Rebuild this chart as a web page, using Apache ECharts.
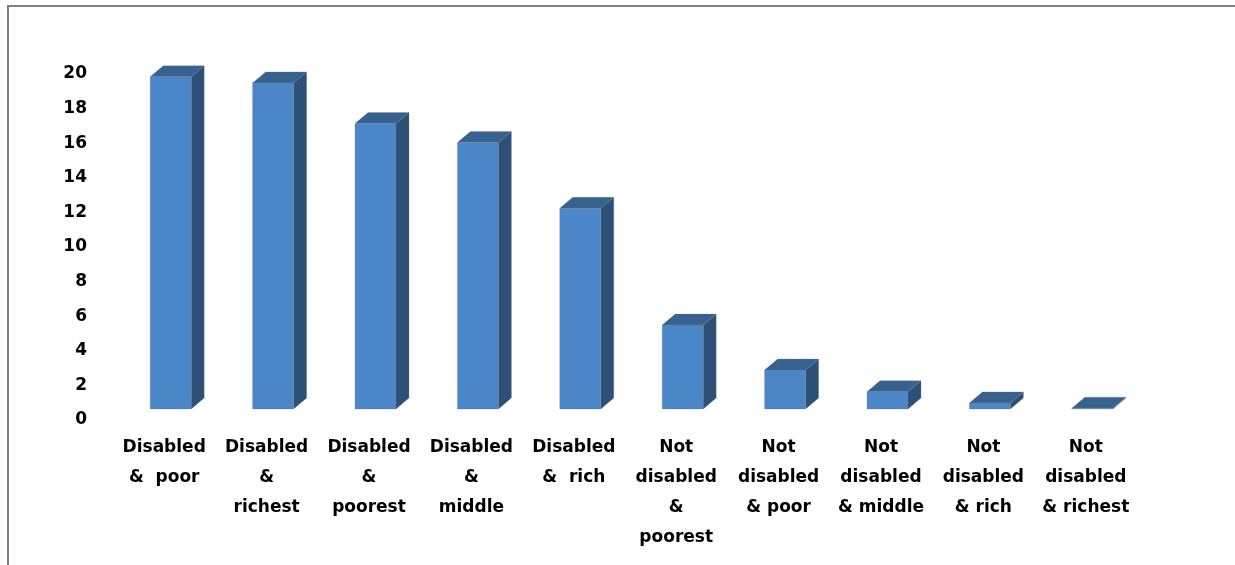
<!DOCTYPE html>
<html>
<head>
<meta charset="utf-8">
<script src="https://cdn.jsdelivr.net/npm/echarts@6/dist/echarts.min.js"></script>
<style>
html,body{margin:0;padding:0;background:#fff;}
#frame{position:absolute;left:7px;top:5px;width:1240px;height:580px;border-left:2px solid #808080;border-top:2px solid #808080;box-sizing:border-box;}
#chart{position:absolute;left:0;top:0;width:1235px;height:565px;}
</style>
</head>
<body>
<div id="frame"></div>
<div id="chart"></div>
<script>
const categories = [
  "Disabled\n&  poor",
  "Disabled\n&\nrichest",
  "Disabled\n&\npoorest",
  "Disabled\n&\nmiddle",
  "Disabled\n&  rich",
  "Not\ndisabled\n&\npoorest",
  "Not\ndisabled\n& poor",
  "Not\ndisabled\n& middle",
  "Not\ndisabled\n& rich",
  "Not\ndisabled\n& richest"
];
const values = [19.2, 18.85, 16.5, 15.4, 11.6, 4.85, 2.25, 1.0, 0.35, 0.05];
const yTicks = [0, 2, 4, 6, 8, 10, 12, 14, 16, 18, 20];

const FRONT = '#4A86C8', TOP = '#37628F', SIDE = '#2D5077';
const chart = echarts.init(document.getElementById('chart'), null, {renderer: 'canvas'});

function renderItem(params, api) {
  const idx = api.value(0);
  const v = api.value(1);
  const top = api.coord([idx, v]);
  const base = api.coord([idx, 0]);
  const lift = 11;
  const cx = top[0];
  const fl = cx - 14, fr = cx + 27;
  const ft = top[1] - lift, fb = base[1] - lift;
  const dx = 13, dy = 11;
  const edge = 'rgba(120,120,120,0.35)';
  return {
    type: 'group',
    children: [
      {type: 'polygon', shape: {points: [[fr, ft], [fr + dx, ft - dy], [fr + dx, fb - dy], [fr, fb]]},
       style: {fill: SIDE, stroke: edge, lineWidth: 0.8}},
      {type: 'polygon', shape: {points: [[fl, ft], [fr, ft], [fr + dx, ft - dy], [fl + dx, ft - dy]]},
       style: {fill: TOP, stroke: edge, lineWidth: 0.8}},
      {type: 'rect', shape: {x: fl, y: ft, width: fr - fl, height: Math.max(fb - ft, 0.5)},
       style: {fill: FRONT, stroke: edge, lineWidth: 0.8}}
    ]
  };
}

chart.setOption({
  animation: false,
  grid: {left: 113, right: 98, top: 74, bottom: 145, containLabel: false},
  xAxis: {
    type: 'category',
    data: categories,
    axisLine: {show: false},
    axisTick: {show: false},
    axisLabel: {
      interval: 0,
      margin: 13,
      fontFamily: 'DejaVu Sans',
      fontWeight: 'bold',
      fontSize: 17,
      lineHeight: 30,
      color: '#000',
      align: 'center',
      verticalAlign: 'top'
    }
  },
  yAxis: {
    type: 'value',
    min: yTicks[0],
    max: yTicks[yTicks.length - 1],
    interval: yTicks[1] - yTicks[0],
    axisLine: {show: false},
    axisTick: {show: false},
    splitLine: {show: false},
    axisLabel: {
      margin: 26,
      fontFamily: 'DejaVu Sans',
      fontWeight: 'bold',
      fontSize: 17,
      color: '#000'
    }
  },
  series: [{
    type: 'custom',
    renderItem: renderItem,
    encode: {x: 0, y: 1},
    data: values.map((v, i) => [i, v])
  }]
});
</script>
</body>
</html>
